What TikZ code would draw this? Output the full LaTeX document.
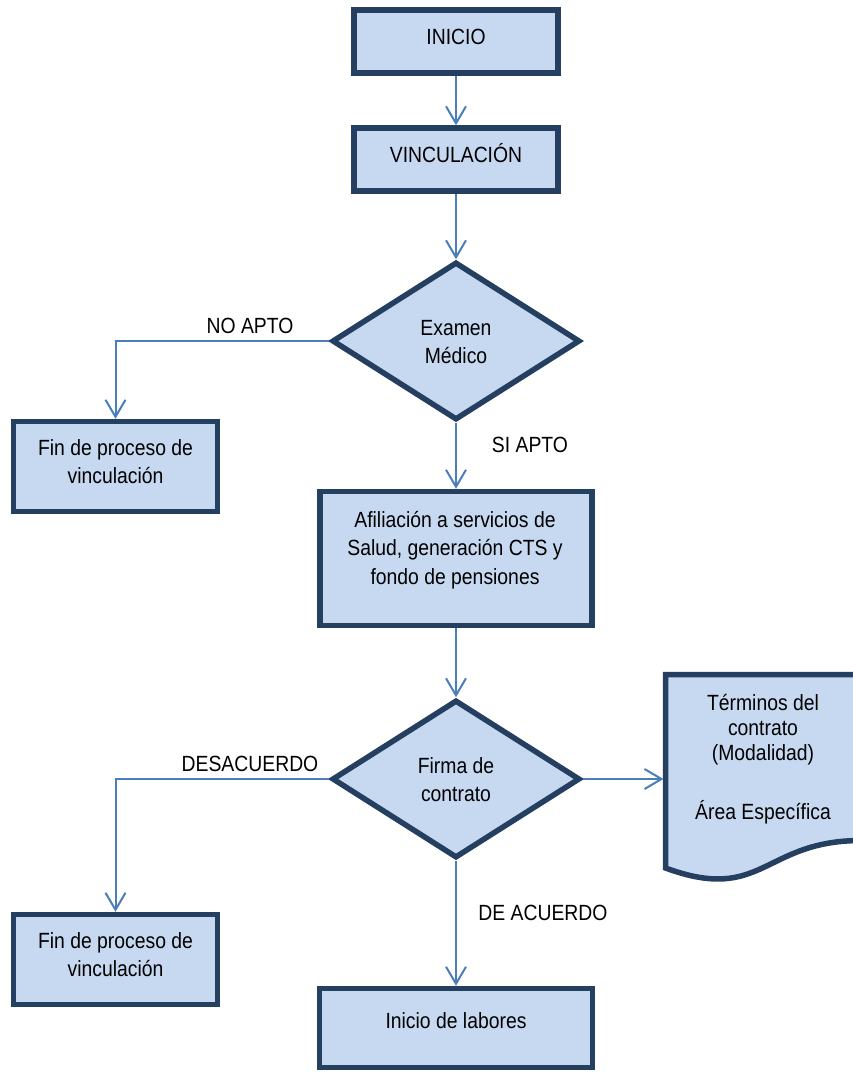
\documentclass[tikz,border=0pt]{standalone}
\usepackage{fontspec}
\setmainfont{Liberation Sans}[FakeStretch=0.88]
\usetikzlibrary{shapes.geometric,arrows.meta}
\definecolor{boxfill}{HTML}{C6D9F1}
\definecolor{boxline}{HTML}{243F60}
\definecolor{flowline}{HTML}{4A7EBB}
% centred multi-line text whose base is the first baseline
\newcommand\mlines[1]{\begin{tabular}[t]{@{}c@{}}#1\end{tabular}}

\begin{document}
\begin{tikzpicture}[x=0.75pt,y=-0.75pt,
  stepbox/.style={rectangle, draw=boxline, fill=boxfill, line width=4.125pt, inner sep=0pt},
  decision/.style={diamond, draw=boxline, fill=boxfill, line width=4.125pt, inner sep=0pt,
                   minimum width=186pt, minimum height=118.5pt},
  txt/.style={inner sep=0pt, anchor=base, font=\fontsize{16.5pt}{21.375pt}\selectfont},
  flow/.style={draw=flowline, line width=1.5pt, -{Straight Barb[length=12.75pt,width=15pt]}}
]
\useasboundingbox (0,0) rectangle (853,1072);
\clip (0,0) rectangle (853,1072);

% process boxes and decisions
\node[stepbox, minimum width=153pt, minimum height=47.25pt] (inicio) at (456,41.5) {};
\node[txt] (inicio-t) at (456,44) {INICIO};

\node[stepbox, minimum width=153pt, minimum height=47.25pt] (vinc) at (456,159.5) {};
\node[txt] (vinc-t) at (456,162) {VINCULACIÓN};

\node[decision] (examen) at (456,341) {};
\node[txt] (examen-t) at (456,335) {\mlines{Examen\\Médico}};

\node[stepbox, minimum width=153pt, minimum height=67.5pt] (fin1) at (115.5,466.5) {};
\node[txt] (fin1-t) at (115.5,455) {\mlines{Fin de proceso de\\vinculación}};

\node[stepbox, minimum width=204pt, minimum height=100.5pt] (afil) at (456,558.5) {};
\node[txt] (afil-t) at (455,527) {\mlines{Afiliación a servicios de\\Salud, generación CTS y\\fondo de pensiones}};

\node[decision] (firma) at (456,779) {};
\node[txt] (firma-t) at (456,773) {\mlines{Firma de\\contrato}};

\node[stepbox, minimum width=153pt, minimum height=67.5pt] (fin2) at (115.5,959.5) {};
\node[txt] (fin2-t) at (115.5,948) {\mlines{Fin de proceso de\\vinculación}};

\node[stepbox, minimum width=204.75pt, minimum height=59.25pt] (labores) at (456,1028) {};
\node[txt] (labores-t) at (456,1028) {Inicio de labores};

% document shape with wavy bottom edge
\path[draw=boxline, fill=boxfill, line width=4.125pt]
  (665.5,674.5) -- (861,674.5) -- (861,840.5)
  .. controls (763,840.5) and (763,903.8) .. (665.5,868) -- cycle;
\coordinate (docin) at (663.5,779);
\node[txt, font=\fontsize{16.5pt}{18.75pt}\selectfont] (doc-t) at (763,710)
  {\mlines{Términos del\\contrato\\(Modalidad)\\[24.75pt]Área Específica}};

% connectors
\draw[flow] (inicio.south) -- (vinc.north);
\draw[flow] (vinc.south) -- (examen.north);
\draw[flow] (examen.west) -| (fin1.north);
\draw[flow] (examen.south) -- (afil.north);
\draw[flow] (afil.south) -- (firma.north);
\draw[flow] (firma.west) -| (fin2.north);
\draw[flow] (firma.south) -- (labores.north);
\draw[flow] (firma.east) -- (docin);

% branch labels
\node[txt] (lbl-noapto) at (250,333) {NO APTO};
\node[txt] (lbl-siapto) at (530,452) {SI APTO};
\node[txt] (lbl-desac) at (250,771) {DESACUERDO};
\node[txt] (lbl-deac) at (543,920) {DE ACUERDO};
\end{tikzpicture}
\end{document}
